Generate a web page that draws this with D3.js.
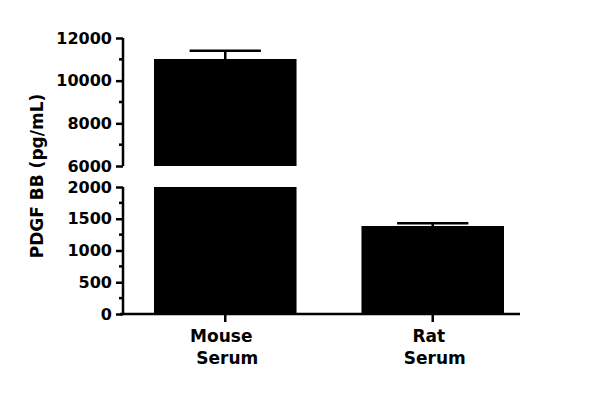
<!DOCTYPE html><html><head><meta charset="utf-8"><script src="https://cdn.jsdelivr.net/npm/d3@7"></script>
<style>body{margin:0;background:#fff}text{font-family:"DejaVu Sans",sans-serif;font-weight:bold;fill:#000}</style></head><body>
<svg id="c" width="600" height="403"></svg>
<script>
const categories=[["Mouse","Serum"],["Rat","Serum"]];
const means=[11016,1386];
const errors=[390,45];
const upperTicks=[6000,8000,10000,12000];
const lowerTicks=[0,500,1000,1500,2000];
const svg=d3.select("#c");
const x=d3.scaleBand().domain([0,1]).range([154,504]).paddingInner(0.313).paddingOuter(0);
const yU=d3.scaleLinear().domain([6000,12000]).range([166,38]);
const yL=d3.scaleLinear().domain([0,2000]).range([314,187]);
const ax=123;
function axis(scale,ticks,minor){
 const g=svg.append("g").attr("transform",`translate(${ax},0)`);
 g.call(d3.axisLeft(scale).tickValues(ticks).tickFormat(d3.format("d")).tickSize(7).tickSizeOuter(0));
 g.selectAll(".tick text").attr("font-size",16).attr("dx",-1);
 g.selectAll("path,line").attr("stroke-width",2.5).attr("stroke","#000");
 g.select(".domain").attr("d",`M0,${scale.range()[0]}V${scale.range()[1]}`);
 svg.append("g").attr("transform",`translate(${ax},0)`).selectAll("line").data(minor).join("line")
  .attr("x1",-4).attr("x2",0).attr("y1",d=>scale(d)).attr("y2",d=>scale(d)).attr("stroke","#000").attr("stroke-width",2.5);
}
axis(yU,upperTicks,[7000,9000,11000]);
axis(yL,lowerTicks,[250,750,1250,1750]);
function err(scale,cx,w,m,e){
  svg.append("line").attr("x1",cx).attr("x2",cx).attr("y1",scale(m)).attr("y2",scale(m+e)).attr("stroke","#000").attr("stroke-width",2.5);
  svg.append("line").attr("x1",cx-w/4).attr("x2",cx+w/4).attr("y1",scale(m+e)).attr("y2",scale(m+e)).attr("stroke","#000").attr("stroke-width",2.5);
}
means.forEach((m,i)=>{
 const x0=x(i),w=x.bandwidth(),cx=x0+w/2;
 if(m>2000){
  svg.append("rect").attr("x",x0).attr("width",w).attr("y",yU(m)).attr("height",yU(6000)-yU(m));
  svg.append("rect").attr("x",x0).attr("width",w).attr("y",yL(2000)).attr("height",yL(0)-yL(2000));
  err(yU,cx,w,m,errors[i]);
 } else {
  svg.append("rect").attr("x",x0).attr("width",w).attr("y",yL(m)).attr("height",yL(0)-yL(m));
  err(yL,cx,w,m,errors[i]);
 }
});
svg.append("line").attr("x1",120).attr("x2",520).attr("y1",314).attr("y2",314).attr("stroke","#000").attr("stroke-width",2.5);
categories.forEach((c,i)=>{
 const cx=x(i)+x.bandwidth()/2;
 svg.append("line").attr("x1",cx).attr("x2",cx).attr("y1",314).attr("y2",322).attr("stroke","#000").attr("stroke-width",2.5);
 const t=svg.append("text").attr("text-anchor","middle").attr("font-size",17).attr("x",cx).attr("y",342);
 t.append("tspan").attr("x",cx-4).text(c[0]);
 t.append("tspan").attr("x",cx+2).attr("dy",22).text(c[1]);
});
svg.append("text").attr("transform","translate(43,176) rotate(-90)").attr("text-anchor","middle").attr("font-size",17).text("PDGF BB (pg/mL)");
</script></body></html>
